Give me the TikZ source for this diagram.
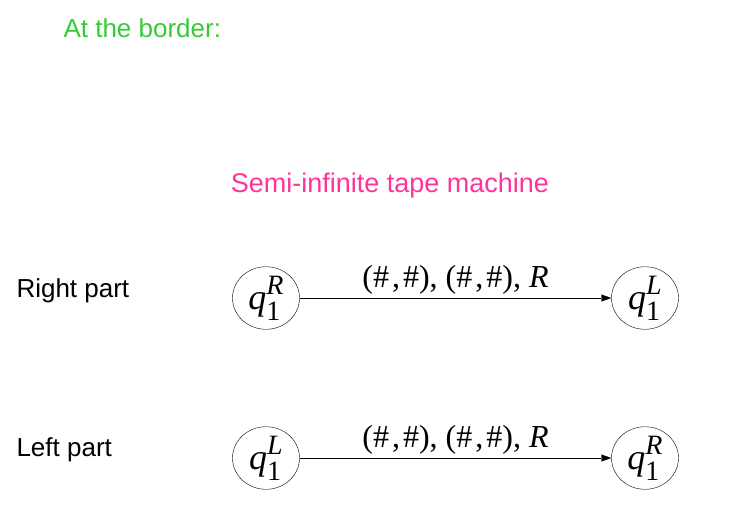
\documentclass[tikz,border=0pt]{standalone}
\usepackage{fontspec}
\setmainfont{Liberation Serif}
\newfontfamily\arial{Liberation Sans}
\usetikzlibrary{shapes.geometric,arrows.meta}
\definecolor{grn}{HTML}{33CC33}
\definecolor{pnk}{HTML}{FF3399}
\newcommand{\qst}[1]{\textit{q}\raisebox{-0.3em}{\rlap{\fontsize{28}{28}\selectfont 1}}\raisebox{0.42em}{\fontsize{28}{28}\selectfont\textit{#1}}}
\tikzset{
  st/.style={draw,ellipse,minimum width=67pt,minimum height=60pt,inner sep=0pt,font=\fontsize{36}{36}\selectfont},
  lbl/.style={font=\arial\fontsize{26}{30}\selectfont,anchor=west},
  tr/.style={-{Triangle[length=10pt,width=7pt]},thin},
  el/.style={font=\fontsize{32}{32}\selectfont,above,inner sep=3pt}
}
\begin{document}
\begin{tikzpicture}[x=1pt,y=-1pt]
\useasboundingbox (0,0) rectangle (736,523);
\node[lbl,text=grn] (t) at (60,28) {At the border:};
\node[font=\arial\fontsize{27}{30}\selectfont,text=pnk] (s) at (390,186) {Semi-infinite tape machine};
\node[lbl] (rp) at (13,291) {Right part};
\node[lbl] (lp) at (13,450) {Left part};
\node[st] (a) at (266,298) {\qst{R}};
\node[st] (b) at (645,298) {\qst{L}};
\node[st] (c) at (266,458) {\qst{L}};
\node[st] (d) at (645,458) {\qst{R}};
\draw[tr] (a.east) -- node[el] {(\#\kern3pt,\kern3pt\#), (\#\kern3pt,\kern3pt\#), \textit{R}} (b.west);
\draw[tr] (c.east) -- node[el] {(\#\kern3pt,\kern3pt\#), (\#\kern3pt,\kern3pt\#), \textit{R}} (d.west);
\end{tikzpicture}
\end{document}
